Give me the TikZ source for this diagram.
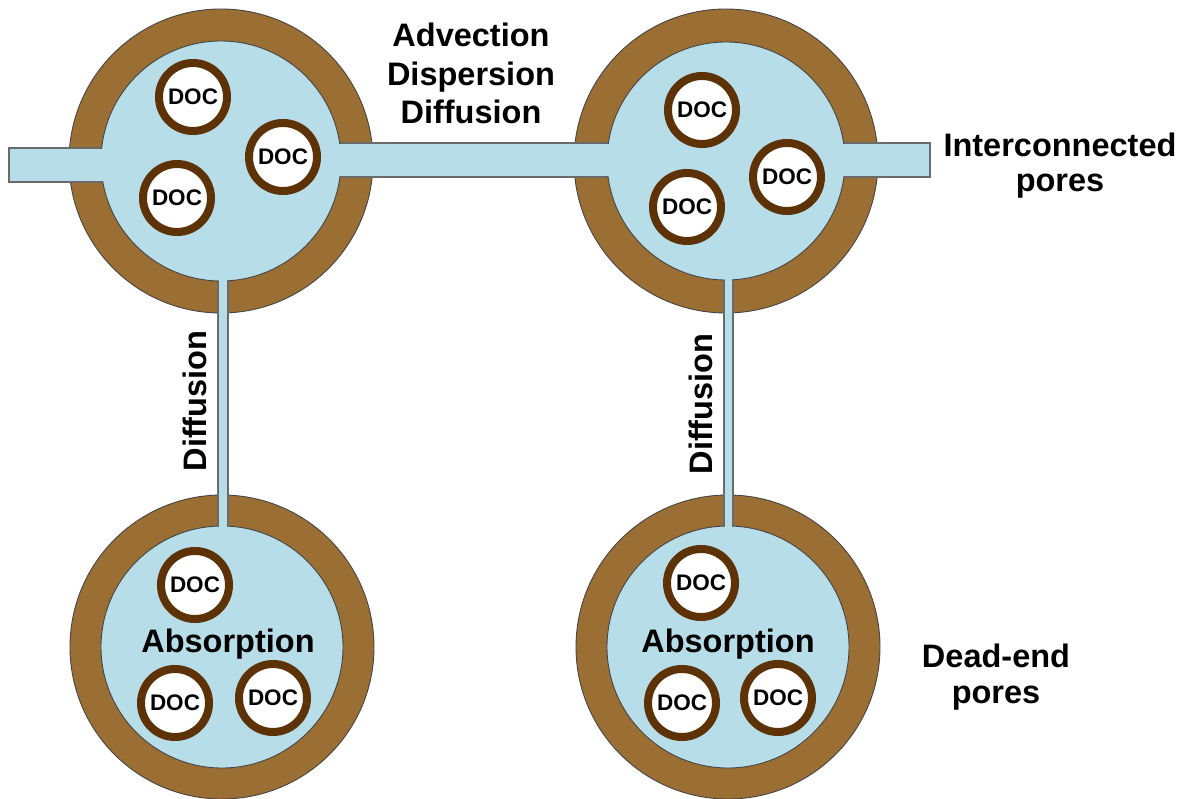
\documentclass[tikz,border=0pt]{standalone}
\usepackage{fontspec}
\setmainfont{Liberation Sans}
\definecolor{ringbrown}{HTML}{9B6E34}
\definecolor{porefill}{HTML}{B7DDE8}
\definecolor{docbrown}{HTML}{5C3206}
\definecolor{edgegrey}{HTML}{454545}
\begin{document}
\begin{tikzpicture}[x=1pt,y=-1pt,
  outerring/.style={fill=ringbrown,draw=edgegrey,line width=0.9pt},
  innerpore/.style={fill=porefill,draw=edgegrey,line width=0.9pt},
  channel/.style={fill=porefill,draw=edgegrey!80,line width=1.2pt},
  channelfill/.style={fill=porefill},
  doc/.style={circle,draw=docbrown,line width=8pt,fill=white,minimum size=68pt,inner sep=0pt,
    font=\fontsize{22.5}{22.5}\selectfont\bfseries},
  lbl/.style={inner sep=0pt,anchor=base,font=\fontsize{32.5}{38}\selectfont\bfseries},
  vlbl/.style={inner sep=0pt,rotate=90,font=\fontsize{32.5}{38}\selectfont\bfseries}]
\useasboundingbox (0,0) rectangle (1189,799);
% pore centres
\coordinate (ptl) at (221,161);
\coordinate (ptr) at (726,161);
\coordinate (pbl) at (222,647);
\coordinate (pbr) at (728,647);
% outer brown rings
\foreach \p in {ptl,ptr,pbl,pbr} \draw[outerring] (\p) circle[radius=152];
% channels
\draw[channel] (9,148) rectangle (150,182);
\draw[channel] (300,143) rectangle (930,177);
\draw[channel] (218,250) rectangle (228,560);
\draw[channel] (724,250) rectangle (733,560);
% inner pore space
\draw[innerpore] (ptl) circle[radius=120];
\draw[innerpore] (ptr) circle[radius=119];
\draw[innerpore] (pbl) circle[radius=121];
\draw[innerpore] (pbr) circle[radius=121];
% open the channels into the pores
\fill[channelfill] (60,148.7) rectangle (150,181.3);
\fill[channelfill] (300,143.7) rectangle (880,176.3);
\fill[channelfill] (218.7,250) rectangle (227.3,560);
\fill[channelfill] (724.7,250) rectangle (732.3,560);
% DOC particles
\node[doc] (d1) at (193,97) {DOC};
\node[doc] (d2) at (283,157) {DOC};
\node[doc] (d3) at (177,198) {DOC};
\node[doc] (d4) at (702,110) {DOC};
\node[doc] (d5) at (787,177) {DOC};
\node[doc] (d6) at (687,207) {DOC};
\node[doc] (d7) at (195,585) {DOC};
\node[doc] (d8) at (175,703) {DOC};
\node[doc] (d9) at (273,698) {DOC};
\node[doc] (d10) at (701,583) {DOC};
\node[doc] (d11) at (682,703) {DOC};
\node[doc] (d12) at (778,698) {DOC};
% labels
\node[lbl] (t1) at (471,47) {Advection};
\node[lbl] (t2) at (471,86) {Dispersion};
\node[lbl] (t3) at (471,124) {Diffusion};
\node[lbl] (t4) at (1060,157) {Interconnected};
\node[lbl] (t5) at (1060,192) {pores};
\node[lbl] (t6) at (996,667) {Dead-end};
\node[lbl] (t7) at (996,703) {pores};
\node[lbl] (t8) at (228,652) {Absorption};
\node[lbl] (t9) at (728,652) {Absorption};
\node[vlbl] (t10) at (195,401) {Diffusion};
\node[vlbl] (t11) at (701,404) {Diffusion};
\end{tikzpicture}
\end{document}
